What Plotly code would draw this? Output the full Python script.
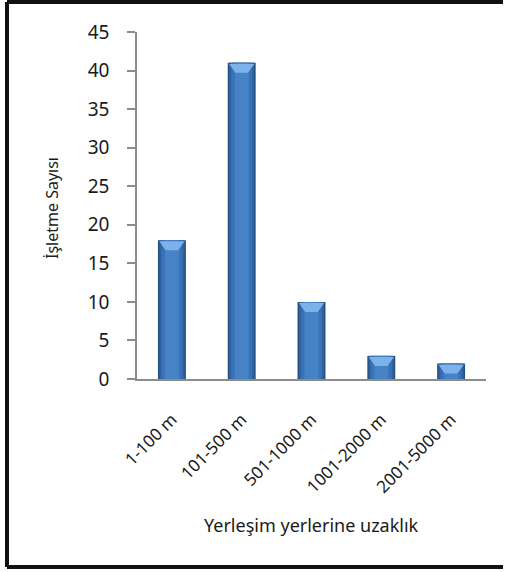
import plotly.graph_objects as go

categories = ["1-100 m", "101-500 m", "501-1000 m", "1001-2000 m", "2001-5000 m"]
counts = [18, 41, 10, 3, 2]
y_ticks = [0, 5, 10, 15, 20, 25, 30, 35, 40, 45]

W, H = 508, 572
L, R, T, B = 137, 22, 32, 193
plot_w = W - L - R
plot_h = H - T - B

def px_x(px):
    return (px - L) / plot_w

def px_y(py):
    return (H - B - py) / plot_h

fig = go.Figure()

# layered bars give the shaded, rounded look of the columns
layers = [
    (0.40, "#24507f"),
    (0.36, "#2f62a0"),
    (0.30, "#3a72b6"),
    (0.20, "#4683c6"),
]
for width, color in layers:
    fig.add_trace(go.Bar(
        x=list(range(len(categories))), y=counts, width=width,
        marker=dict(color=color, line=dict(width=0)),
        hoverinfo="skip", showlegend=False,
    ))

# light bevel on the top of each column
bx, by = [], []
for i, v in enumerate(counts):
    bx += [i - 0.18, i + 0.18, i + 0.09, i - 0.09, i - 0.18, None]
    by += [v - 0.15, v - 0.15, v - 1.3, v - 1.3, v - 0.15, None]
fig.add_trace(go.Scatter(
    x=bx, y=by, mode="lines", fill="toself",
    fillcolor="#7db1ec", line=dict(width=0),
    hoverinfo="skip", showlegend=False,
))

# frame: top, left and bottom edges
frame = dict(type="line", xref="paper", yref="paper",
             line=dict(color="#111111", width=4), layer="above")
shapes = [
    dict(frame, x0=px_x(7), x1=px_x(W - 5), y0=px_y(2), y1=px_y(2)),
    dict(frame, x0=px_x(7), x1=px_x(7), y0=px_y(2), y1=px_y(567)),
    dict(frame, x0=px_x(7), x1=px_x(W - 5), y0=px_y(567), y1=px_y(567)),
]

fig.update_layout(
    width=W, height=H,
    margin=dict(l=L, r=R, t=T, b=B),
    paper_bgcolor="white", plot_bgcolor="white",
    barmode="overlay",
    font=dict(family="Noto Sans, sans-serif", color="#1a1a1a"),
    xaxis=dict(
        range=[-0.5, len(categories) - 0.5],
        tickmode="array", tickvals=list(range(len(categories))),
        ticktext=categories, tickangle=-45,
        tickfont=dict(size=17, family="Noto Sans"),
        showline=True, linecolor="#8c8c8c", linewidth=1.5,
        ticks="", showgrid=False, zeroline=False,
        ticklabelstandoff=22,
    ),
    yaxis=dict(
        range=[0, 45], tickmode="array", tickvals=y_ticks,
        tickfont=dict(size=19, family="Noto Sans"),
        showline=True, linecolor="#8c8c8c", linewidth=1.5,
        ticks="outside", ticklen=8, tickcolor="#8c8c8c", tickwidth=1.5,
        ticklabelstandoff=14,
        showgrid=False, zeroline=False,
    ),
    annotations=[
        dict(text="İşletme Sayısı", textangle=-90, showarrow=False,
             xref="paper", yref="paper", x=px_x(52), y=px_y(208),
             xanchor="center", yanchor="middle",
             font=dict(size=16, family="Noto Sans", color="#1a1a1a")),
        dict(text="Yerleşim yerlerine uzaklık", showarrow=False,
             xref="paper", yref="paper", x=px_x(311), y=px_y(525),
             xanchor="center", yanchor="middle",
             font=dict(size=18, family="Noto Sans", color="#1a1a1a")),
    ],
    shapes=shapes,
)

fig.write_html("out.html")
